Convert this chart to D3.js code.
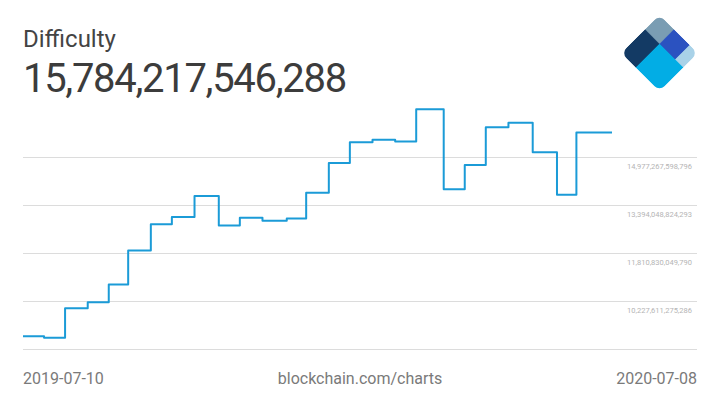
<!DOCTYPE html>
<html>
<head>
<meta charset="utf-8">
<script src="https://cdn.jsdelivr.net/npm/d3@7"></script>
<style>
	html, body { margin: 0; padding: 0; background: #fff; }
	svg { display: block; font-family: Roboto, sans-serif; }
</style>
</head>
<body>
<div id="chart"></div>
<script>
// difficulty adjustments (date the new value starts)
const dates = ['2019-07-10', '2019-07-23', '2019-08-05', '2019-08-19', '2019-09-01', '2019-09-13',
	'2019-09-27', '2019-10-10', '2019-10-24', '2019-11-08', '2019-11-21', '2019-12-05', '2019-12-20',
	'2020-01-01', '2020-01-15', '2020-01-28', '2020-02-11', '2020-02-25', '2020-03-09', '2020-03-26',
	'2020-04-08', '2020-04-21', '2020-05-05', '2020-05-20', '2020-06-04', '2020-06-16', '2020-07-08'];
const values = [9.064e12, 9.013e12, 9.985e12, 10.183e12, 10.771e12, 11.890e12,
	12.759e12, 12.997e12, 13.691e12, 12.720e12, 12.973e12, 12.876e12, 12.950e12,
	13.798e12, 14.776e12, 15.466e12, 15.546e12, 15.486e12, 16.552e12, 13.912e12,
	14.715e12, 15.958e12, 16.104e12, 15.138e12, 13.732e12, 15.784e12, 15.784e12];

const gridValues = [8644392500783, 10227611275286, 11810830049790, 13394048824293, 14977267598796];
const tickLabels = ['', '10,227,611,275,286', '11,810,830,049,790', '13,394,048,824,293', '14,977,267,598,796'];

const title = 'Difficulty';
const current = '15,784,217,546,288';
const startLabel = '2019-07-10';
const endLabel = '2020-07-08';
const source = 'blockchain.com/charts';

const width = 720;
const height = 405;

const parse = d3.timeParse('%Y-%m-%d');
const data = dates.map((d, i) => ({ date: parse(d), value: values[i] }));

const svg = d3.select('#chart')
	.append('svg')
	.attr('width', width)
	.attr('height', height)

const xScale = d3.scaleTime()
	.domain([parse(startLabel), parse(endLabel)])
	.range([23, 612])

const yScale = d3.scaleLinear()
	.domain([gridValues[0], gridValues[gridValues.length - 1]])
	.range([349, 157])

// grid lines
const yAxis = d3.axisRight(yScale)
	.tickValues(gridValues)
	.tickSize(674)
	.tickFormat((d, i) => tickLabels[i])

const yAxisG = svg.append('g')
	.attr('transform', 'translate(23, 0)')
	.call(yAxis)

yAxisG.select('.domain').remove()
yAxisG.selectAll('.tick line')
	.attr('stroke', '#dcdcdc')
	.attr('shape-rendering', 'crispEdges')
yAxisG.selectAll('.tick text')
	.attr('x', 669)
	.attr('dy', 11)
	.attr('text-anchor', 'end')
	.attr('fill', '#b4b4b4')
	.attr('font-size', 7.5)
	.attr('font-family', 'Roboto, sans-serif')

// line
const line = d3.line()
	.x(d => xScale(d.date))
	.y(d => yScale(d.value))
	.curve(d3.curveStepAfter)

svg.append('path')
	.datum(data)
	.attr('d', line)
	.attr('fill', 'none')
	.attr('stroke', '#1b9bd7')
	.attr('stroke-width', 2)
	.attr('stroke-linejoin', 'round')

// header
svg.append('text')
	.attr('x', 23)
	.attr('y', 47)
	.attr('font-size', 24)
	.attr('fill', '#444')
	.text(title)

svg.append('text')
	.attr('x', 23)
	.attr('y', 92)
	.attr('font-size', 40)
	.attr('letter-spacing', -1.3)
	.attr('fill', '#3c3c3c')
	.text(current)

// footer
const footer = svg.append('g')
	.attr('font-size', 16)
	.attr('fill', '#7a7a7a')

footer.append('text').attr('x', 23).attr('y', 384).text(startLabel)
footer.append('text').attr('x', 360).attr('y', 384).attr('text-anchor', 'middle').text(source)
footer.append('text').attr('x', 697).attr('y', 384).attr('text-anchor', 'end').text(endLabel)

// logo
const S = 54;
const h = S / 2;
const logo = svg.append('g')
	.attr('transform', 'translate(659.5, 53) rotate(45)')

logo.append('clipPath')
	.attr('id', 'logoClip')
	.append('rect')
	.attr('x', -h).attr('y', -h)
	.attr('width', S).attr('height', S)
	.attr('rx', 7)

const pieces = [
	{ x: 0, y: 0, w: 0.38, h: 0.38, c: '#7a9db3' },
	{ x: 0.38, y: 0, w: 0.41, h: 0.38, c: '#2b52c0' },
	{ x: 0.79, y: 0, w: 0.21, h: 0.38, c: '#a9d2e8' },
	{ x: 0, y: 0.38, w: 0.38, h: 0.62, c: '#133a64' },
	{ x: 0.38, y: 0.38, w: 0.62, h: 0.62, c: '#02ade5' }
];

logo.append('g')
	.attr('clip-path', 'url(#logoClip)')
	.selectAll('rect')
	.data(pieces)
	.enter()
	.append('rect')
	.attr('x', d => -h + d.x * S)
	.attr('y', d => -h + d.y * S)
	.attr('width', d => d.w * S + 0.5)
	.attr('height', d => d.h * S + 0.5)
	.attr('fill', d => d.c)
</script>
</body>
</html>
